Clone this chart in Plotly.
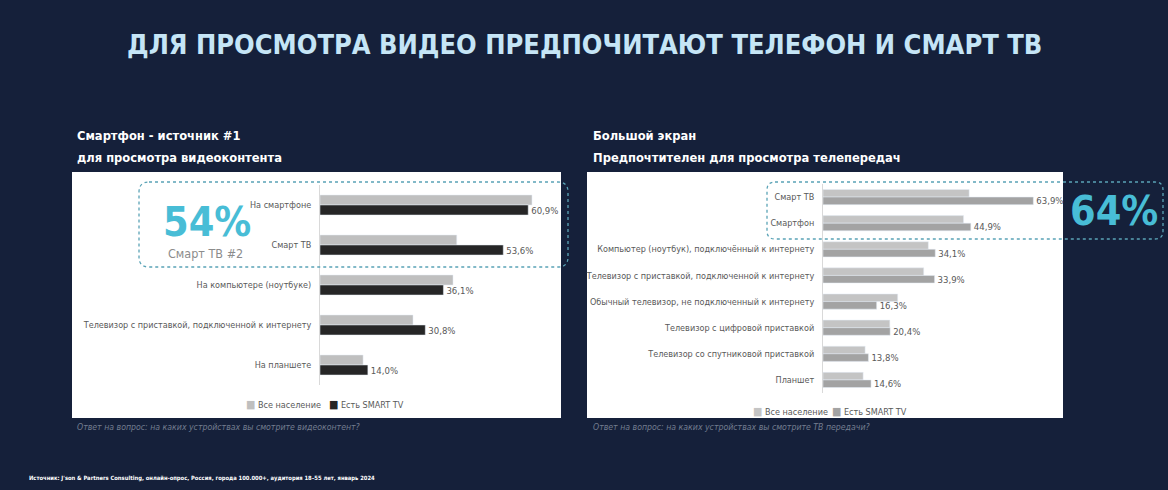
import plotly.graph_objects as go

W, H = 1168, 490

# data
series_names = ["Все население", "Есть SMART TV"]

left_cats = ["На смартфоне", "Смарт ТВ", "На компьютере (ноутбуке)",
             "Телевизор с приставкой, подключенной к интернету", "На планшете"]
left_all = [62.0, 40.0, 38.9, 27.2, 12.6]
left_smart = [60.9, 53.6, 36.1, 30.8, 14.0]

right_cats = ["Смарт ТВ", "Смартфон",
              "Компьютер (ноутбук), подключённый к интернету",
              "Телевизор с приставкой, подключенной к интернету",
              "Обычный телевизор, не подключенный к интернету",
              "Телевизор с цифровой приставкой",
              "Телевизор со спутниковой приставкой", "Планшет"]
right_all = [44.4, 42.7, 32.0, 30.6, 22.7, 20.3, 12.8, 12.2]
right_smart = [63.9, 44.9, 34.1, 33.9, 16.3, 20.4, 13.8, 14.6]

NARROW = "DejaVu Sans Condensed, Liberation Sans Narrow, sans-serif"
BG = "#15203a"
TXT = "#595959"
left_colors = ["#bfbfbf", "#262626"]
right_colors = ["#c4c4c4", "#a3a3a3"]


def px(x):
    return x / W


def py(y):
    return 1 - y / H


def rounded(x0, y0, x1, y1, r):
    pts = [("M", x0 + r, y0), ("L", x1 - r, y0), ("Q", x1, y0, x1, y0 + r),
           ("L", x1, y1 - r), ("Q", x1, y1, x1 - r, y1), ("L", x0 + r, y1),
           ("Q", x0, y1, x0, y1 - r), ("L", x0, y0 + r), ("Q", x0, y0, x0 + r, y0)]
    out = ""
    for p in pts:
        cmd, vals = p[0], p[1:]
        coords = []
        for i in range(0, len(vals), 2):
            coords.append(f"{px(vals[i]):.5f},{py(vals[i + 1]):.5f}")
        out += cmd + " ".join(coords) + " "
    return out + "Z"


fig = go.Figure()

bar_text = dict(texttemplate="%{x:.1f}%", textposition="outside",
                textfont=dict(size=9.5, color=TXT, family=NARROW),
                constraintext="none", cliponaxis=False)

# left chart
fig.add_trace(go.Bar(y=left_cats, x=left_all, orientation="h", name=series_names[0],
                     marker_color=left_colors[0], width=0.25, offset=-0.25,
                     xaxis="x", yaxis="y"))
fig.add_trace(go.Bar(y=left_cats, x=left_smart, orientation="h", name=series_names[1],
                     marker_color=left_colors[1], width=0.25, offset=0,
                     xaxis="x", yaxis="y", **bar_text))

# right chart
fig.add_trace(go.Bar(y=right_cats, x=right_all, orientation="h", name=series_names[0],
                     marker_color=right_colors[0], width=0.29, offset=-0.29,
                     xaxis="x2", yaxis="y2"))
fig.add_trace(go.Bar(y=right_cats, x=right_smart, orientation="h", name=series_names[1],
                     marker_color=right_colors[1], width=0.29, offset=0,
                     xaxis="x2", yaxis="y2", **bar_text))

yax = dict(type="category", showline=True, linecolor="#d9d9d9", linewidth=1,
           showgrid=False, zeroline=False, ticks="", ticklabelstandoff=6,
           tickfont=dict(size=9, color=TXT, family=NARROW), fixedrange=True)
xax = dict(visible=False, showgrid=False, zeroline=False, fixedrange=True)

fig.update_layout(
    width=W, height=H,
    margin=dict(l=0, r=0, t=0, b=0, autoexpand=False),
    paper_bgcolor=BG, plot_bgcolor="rgba(0,0,0,0)",
    barmode="overlay", separators=", ", showlegend=False,
    xaxis=dict(xax, domain=[px(320), px(560)], range=[0, 70.2], anchor="y"),
    yaxis=dict(yax, domain=[py(385), py(185)], range=[len(left_cats) - 0.5, -0.5], anchor="x"),
    xaxis2=dict(xax, domain=[px(823), px(1060)], range=[0, 72.0], anchor="y2"),
    yaxis2=dict(yax, domain=[py(393), py(184)], range=[len(right_cats) - 0.5, -0.5], anchor="x2"),
)

shapes = [
    dict(type="rect", xref="paper", yref="paper", x0=px(72), x1=px(561), y0=py(418), y1=py(172),
         fillcolor="white", line=dict(width=0), layer="below"),
    dict(type="rect", xref="paper", yref="paper", x0=px(587), x1=px(1063), y0=py(418), y1=py(172),
         fillcolor="white", line=dict(width=0), layer="below"),
    dict(type="path", xref="paper", yref="paper", path=rounded(139, 182, 568, 267, 10),
         line=dict(color="#5aa3b6", width=1.3, dash="dot"), layer="above"),
    dict(type="path", xref="paper", yref="paper", path=rounded(767, 182, 1163, 239, 8),
         line=dict(color="#5aa3b6", width=1.3, dash="dot"), layer="above"),
]
fig.update_layout(shapes=shapes)


def note(text, x, y, size, color, xanchor="left", bold=False, italic=False):
    if bold:
        text = f"<b>{text}</b>"
    if italic:
        text = f"<i>{text}</i>"
    fig.add_annotation(text=text, x=px(x), y=py(y), xref="paper", yref="paper",
                       xanchor=xanchor, yanchor="middle", showarrow=False,
                       font=dict(size=size, color=color, family=NARROW))


def key(name, color, x, y):
    note(f"<span style='color:{color};font-size:11px'>■</span> {name}", x, y, 9, TXT)


note("ДЛЯ ПРОСМОТРА ВИДЕО ПРЕДПОЧИТАЮТ ТЕЛЕФОН И СМАРТ ТВ", 584, 45, 27, "#c5e5f6",
     xanchor="center", bold=True)
note("Смартфон - источник #1", 75, 135, 12.8, "white", bold=True)
note("для просмотра видеоконтента", 75, 157, 12.8, "white", bold=True)
note("Большой экран", 591, 135, 12.8, "white", bold=True)
note("Предпочтителен для просмотра телепередач", 591, 157, 12.8, "white", bold=True)
note("54%", 207, 222, 41, "#48bdd6", xanchor="center", bold=True)
note("Смарт ТВ #2", 205, 253, 12.5, "#8c8c8c", xanchor="center")
note("64%", 1114, 211, 41, "#48bdd6", xanchor="center", bold=True)

key(series_names[0], left_colors[0], 244, 404)
key(series_names[1], left_colors[1], 327, 404)
key(series_names[0], right_colors[0], 751, 411)
key(series_names[1], right_colors[1], 830, 411)

note("Ответ на вопрос: на каких устройствах вы смотрите видеоконтент?", 75, 427, 8.7,
     "#737d8f", italic=True)
note("Ответ на вопрос: на каких устройствах вы смотрите ТВ передачи?", 591, 427, 8.7,
     "#737d8f", italic=True)
note("Источник: J'son & Partners Consulting, онлайн-опрос, Россия, города 100.000+, "
     "аудитория 18–55 лет, январь 2024", 27, 478, 5.8, "white", bold=True)

fig.write_html("out.html", config={"displayModeBar": False},
               post_script="document.body.style.margin='0';")
